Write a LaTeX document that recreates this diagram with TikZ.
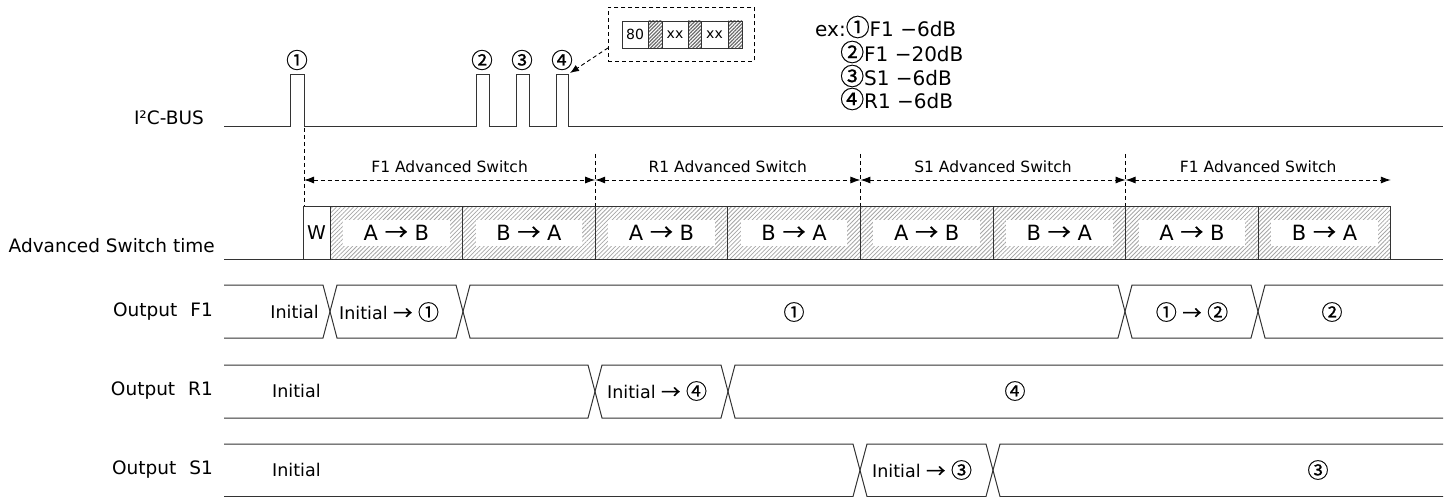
\documentclass[tikz,border=0pt]{standalone}
\usepackage{fontspec}
\setmainfont{DejaVu Sans}
\newfontfamily\cjk[Scale=1.2,FakeBold=0.6]{Noto Sans CJK JP}
\newfontfamily\cjkarr[Scale=1.1,FakeBold=0.6]{Noto Sans CJK JP}
\newcommand\ciA{{\cjk ①}}
\newcommand\ciB{{\cjk ②}}
\newcommand\ciC{{\cjk ③}}
\newcommand\ciD{{\cjk ④}}
\newcommand\rarr{{\cjkarr →}}
\usetikzlibrary{arrows.meta,patterns.meta}
\newcommand\tseg[4]{\draw[sig] (#3,{(#1+#2)/2}) -- (#3+7,#1) -- (#4-7,#1) -- (#4,{(#1+#2)/2}) -- (#4-7,#2) -- (#3+7,#2) -- cycle;}
\newcommand\tfirst[3]{\draw[sig] (224,#1) -- (#3-7,#1) -- (#3,{(#1+#2)/2}) -- (#3-7,#2) -- (224,#2);}
\newcommand\tlast[3]{\draw[sig] (1443,#1) -- (#3+7,#1) -- (#3,{(#1+#2)/2}) -- (#3+7,#2) -- (1443,#2);}
\begin{document}
\begin{tikzpicture}[x=1pt,y=-1pt,
  sig/.style={line width=1pt,draw=black!80},
  lbl/.style={font=\fontsize{18.5}{20}\selectfont,inner sep=0pt},
  otxt/.style={font=\fontsize{17.5}{20}\selectfont,inner sep=0pt},
  small/.style={font=\fontsize{15.5}{18}\selectfont,inner sep=0pt},
  legend/.style={font=\fontsize{20}{22}\selectfont,inner sep=0pt,anchor=west},
  circ/.style={font=\fontsize{18}{20}\selectfont,inner sep=0pt},
  swbox/.style={draw=black!80,line width=1pt,minimum width=132.6pt,minimum height=52pt,inner sep=0pt,outer sep=0pt,anchor=north west,
     pattern={Lines[angle=45,distance=3pt,line width=0.8pt]},pattern color=gray!70},
  swin/.style={fill=white,minimum width=106.5pt,minimum height=26pt,inner sep=0pt,font=\fontsize{21}{22}\selectfont},
  cell/.style={draw=black!80,line width=0.8pt,minimum height=27pt,inner sep=0pt,outer sep=0pt,anchor=north west,font=\fontsize{14}{16}\selectfont},
  dcell/.style={cell,pattern={Lines[angle=45,distance=2.5pt,line width=1.2pt]},pattern color=gray!85!black},
  vdash/.style={dash pattern=on 4pt off 3pt,line width=0.9pt,draw=black},
  dimarr/.style={dash pattern=on 4pt off 3pt,line width=0.9pt,draw=black,{Latex[length=10pt,width=7pt]}-{Latex[length=10pt,width=7pt]}},
]
\useasboundingbox (0,0) rectangle (1453,497);

% ---------- row labels ----------
\node[lbl,anchor=east] (lbus) at (204,118) {I²C-BUS};
\node[lbl,anchor=east] (lsw) at (215,246) {Advanced Switch time};
\node[lbl,anchor=east] (lf1) at (213,312) {Output\hspace{0.7em}F1};
\node[lbl,anchor=east] (lr1) at (213,391) {Output\hspace{0.7em}R1};
\node[lbl,anchor=east] (ls1) at (213,470) {Output\hspace{0.7em}S1};

% ---------- I2C bus ----------
\draw[sig] (224,127) -- (290,127) -- (290,75) -- (304,75) -- (304,127)
  -- (476,127) -- (476,75) -- (489,75) -- (489,127)
  -- (516,127) -- (516,75) -- (529,75) -- (529,127)
  -- (556,127) -- (556,75) -- (568,75) -- (568,127) -- (1443,127);
\node[circ] (p1) at (297,60) {\ciA};
\node[circ] (p2) at (482,60) {\ciB};
\node[circ] (p3) at (522,60) {\ciC};
\node[circ] (p4) at (562,60) {\ciD};
\coordinate (p4top) at (570,73);

% command frame
\node[draw=black,dash pattern=on 4pt off 3pt,line width=0.9pt,minimum width=146pt,minimum height=54pt,anchor=north west,inner sep=0pt] (frame) at (608,7) {};
\node[cell,minimum width=26pt] (c80) at (622,21) {80};
\node[dcell,minimum width=14pt] (g1) at (648,21) {};
\node[cell,minimum width=26pt] (x1) at (662,21) {xx};
\node[dcell,minimum width=13pt] (g2) at (688,21) {};
\node[cell,minimum width=27pt] (x2) at (701,21) {xx};
\node[dcell,minimum width=14pt] (g3) at (728,21) {};
\draw[dash pattern=on 4pt off 3pt,line width=0.9pt,-{Latex[length=9pt,width=7pt]}] (frame.south west) ++(0,-14) coordinate (fa) -- (p4top);

% legend
\node[legend] (ex) at (815,27) {ex:\ciA F1 −6dB};
\node[legend] (ex2) at (840,52) {\ciB F1 −20dB};
\node[legend] (ex3) at (840,76) {\ciC S1 −6dB};
\node[legend] (ex4) at (840,99) {\ciD R1 −6dB};

% ---------- advanced switch ----------
\coordinate (v0t) at (304,128);
\coordinate (v1t) at (595.2,154);
\coordinate (v2t) at (860.4,154);
\coordinate (v3t) at (1125.6,154);
\draw[vdash] (v0t) -- (304,207);
\draw[vdash] (v1t) -- (595.2,207);
\draw[vdash] (v2t) -- (860.4,207);
\draw[vdash] (v3t) -- (1125.6,207);
\coordinate (a0) at (304,180);
\coordinate (a1) at (595.2,180);
\coordinate (a2) at (860.4,180);
\coordinate (a3) at (1125.6,180);
\coordinate (a4) at (1390.8,180);
\draw[dimarr] (a0) -- (a1);
\draw[dimarr] (a1) -- (a2);
\draw[dimarr] (a2) -- (a3);
\draw[dimarr] (a3) -- (a4);
\node[small] (t1) at (449.6,167) {F1 Advanced Switch};
\node[small] (t2) at (727.8,167) {R1 Advanced Switch};
\node[small] (t3) at (993,167) {S1 Advanced Switch};
\node[small] (t4) at (1258.2,167) {F1 Advanced Switch};

\draw[sig] (224,259) -- (1443,259);
\node[draw=black!80,line width=1pt,fill=white,minimum width=27pt,minimum height=52pt,inner sep=0pt,outer sep=0pt,anchor=north west,font=\fontsize{19}{20}\selectfont] (w) at (303,207) {W};
\foreach \i in {0,...,7} {
  \pgfmathsetmacro\xa{330+132.6*\i}
  \node[swbox] (sw\i) at (\xa,207) {};
  \node[swin] (in\i) at (sw\i.center) {\ifodd\i B \rarr{} A\else A \rarr{} B\fi};
}

% ---------- Output F1 ----------
\tfirst{285}{338}{330}
\tseg{285}{338}{330}{463}
\tseg{285}{338}{463}{1125}
\tseg{285}{338}{1125}{1258}
\tlast{285}{338}{1258}
\node[otxt,anchor=east] (f1a) at (319,312) {Initial};
\node[otxt,anchor=west] (f1b) at (339,312) {Initial \rarr{} \ciA};
\node[otxt] (f1c) at (794,312) {\ciA};
\node[otxt] (f1d) at (1192,312) {\ciA{} \rarr{} \ciB};
\node[otxt] (f1e) at (1332,312) {\ciB};

% ---------- Output R1 ----------
\tfirst{365}{418}{595}
\tseg{365}{418}{595}{728}
\tlast{365}{418}{728}
\node[otxt,anchor=west] (r1a) at (272,391) {Initial};
\node[otxt,anchor=west] (r1b) at (607,391) {Initial \rarr{} \ciD};
\node[otxt] (r1c) at (1015,391) {\ciD};

% ---------- Output S1 ----------
\tfirst{444}{496.5}{860}
\tseg{444}{496.5}{860}{993}
\tlast{444}{496.5}{993}
\node[otxt,anchor=west] (s1a) at (272,470) {Initial};
\node[otxt,anchor=west] (s1b) at (872,470) {Initial \rarr{} \ciC};
\node[otxt] (s1c) at (1318,470) {\ciC};
\end{tikzpicture}
\end{document}
